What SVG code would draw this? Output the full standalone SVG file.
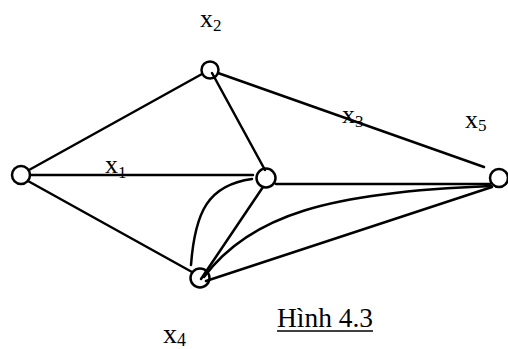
<svg xmlns="http://www.w3.org/2000/svg" width="508" height="349" viewBox="0 0 508 349">
<style>
.e{fill:none;stroke:#000;stroke-width:2.5;stroke-linecap:round}
.n{fill:none;stroke:#000;stroke-width:2.5}
.t{font-family:"Liberation Serif","Times New Roman",serif;font-size:26px;fill:#000}
.s{font-size:17px}
</style>
<rect width="508" height="349" fill="#fff"/>
<g id="connectors">
<path class="e" d="M29,170 L202,74"/>
<path class="e" d="M30,175 L253,175"/>
<path class="e" d="M28,181 L192,272"/>
<path class="e" d="M212,73 L265,170"/>
<path class="e" d="M218,73 L484,167"/>
<path class="e" d="M276,184 L490,184"/>
<path class="e" d="M191,265 C195,212 208,185 252,179"/>
<path class="e" d="M201,279 L263,187"/>
<path class="e" d="M204,277 C250,215 330,192 491,186"/>
<path class="e" d="M206,281 L492,187"/>
</g>
<g id="node-x1"><circle class="n" cx="21" cy="175" r="9"/><text class="t" x="105" y="173">x<tspan class="s" dy="5">1</tspan></text></g>
<g id="node-x2"><circle class="n" cx="210" cy="70" r="8.5"/><text class="t" x="200" y="27">x<tspan class="s" dy="4">2</tspan></text></g>
<g id="node-x3"><circle class="n" cx="266" cy="178" r="9.5"/><text class="t" x="342" y="123">x<tspan class="s" dy="4">3</tspan></text></g>
<g id="node-x5"><circle class="n" cx="499" cy="178" r="9"/><text class="t" x="465" y="128">x<tspan class="s" dy="3">5</tspan></text></g>
<g id="node-x4"><circle class="n" cx="200" cy="278" r="9.5"/><text class="t" x="163" y="343" style="font-size:28px">x<tspan class="s" dy="3" style="font-size:18px">4</tspan></text></g>
<g id="caption"><text class="t" x="277" y="327" style="font-size:28px" textLength="96" lengthAdjust="spacingAndGlyphs">Hình 4.3</text><line x1="277" y1="331" x2="373" y2="331" stroke="#000" stroke-width="1.5"/></g>
</svg>
